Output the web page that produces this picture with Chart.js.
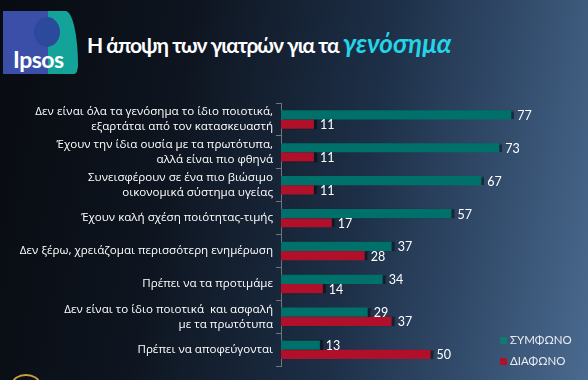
<!DOCTYPE html>
<html>
<head>
<meta charset="utf-8">
<script src="https://cdn.jsdelivr.net/npm/chart.js@4.4.1/dist/chart.umd.min.js"></script>
<style>
    body {
        margin: 0;
        width: 588px;
        height: 380px;
        overflow: hidden;
        position: relative;
        font-family: Lato, "Open Sans", sans-serif;
        background: linear-gradient(100deg, #080b10 0%, #0e1520 30%, #1d2f47 60%, #344e6e 82%, #4a6a8f 100%);
    }
    .logo {
        position: absolute;
        left: 3px;
        top: 11px;
        width: 75px;
        height: 63px;
        background: linear-gradient(to right, #3b4fa8 0%, #3b4fa8 60%, #14a399 60%, #14a399 100%);
        border-radius: 0 14px 4px 0 / 0 60px 10px 0;
        overflow: hidden;
    }
    .logo .head {
        position: absolute;
        left: 31px;
        top: 6px;
        width: 26px;
        height: 30px;
        border-radius: 50%;
        background: #2b4a9c;
    }
    .logo span {
        position: absolute;
        left: 10px;
        top: 34px;
        color: #fff;
        font: bold 23px Lato, sans-serif;
        letter-spacing: -0.5px;
    }
    .title {
        position: absolute;
        left: 87px;
        top: 27px;
        color: #fff;
        font: bold 21px Lato, sans-serif;
        letter-spacing: -1px;
        white-space: nowrap;
    }
    .title i {
        color: #25d4e6;
        font-size: 26px;
        letter-spacing: 0;
    }
    #chartBox {
        position: absolute;
        left: 0;
        top: 0;
    }
    .legend {
        position: absolute;
        left: 500px;
        color: #e8eef4;
        font: 11.5px Lato, sans-serif;
    }
    .legend b {
        display: inline-block;
        width: 7px;
        height: 7px;
        margin-right: 3px;
        vertical-align: 0;
    }
    .gold {
        position: absolute;
        left: 12px;
        top: 374px;
        width: 24px;
        height: 14px;
        border: 2px solid #c9a040;
        border-radius: 50%;
        border-bottom-color: transparent;
    }
</style>
</head>
<body>
<div class="logo"><div class="head"></div><span>Ipsos</span></div>
<div class="title">Η άποψη των γιατρών για τα <i>γενόσημα</i></div>
<div class="gold"></div>
<canvas id="chartBox" width="588" height="384"></canvas>
<div class="legend" style="top:333px"><b style="background:#0f7a70"></b>ΣΥΜΦΩΝΟ</div>
<div class="legend" style="top:354px"><b style="background:#b0102a"></b>ΔΙΑΦΩΝΟ</div>

<script>
// Données
var categories = [
    ['Δεν είναι όλα τα γενόσημα το ίδιο ποιοτικά,', 'εξαρτάται από τον κατασκευαστή'],
    ['Έχουν την ίδια ουσία με τα πρωτότυπα,', 'αλλά είναι πιο φθηνά'],
    ['Συνεισφέρουν σε ένα πιο βιώσιμο', 'οικονομικά σύστημα υγείας'],
    'Έχουν καλή σχέση ποιότητας-τιμής',
    'Δεν ξέρω, χρειάζομαι περισσότερη ενημέρωση',
    'Πρέπει να τα προτιμάμε',
    ['Δεν είναι το ίδιο ποιοτικά  και ασφαλή', 'με τα πρωτότυπα'],
    'Πρέπει να αποφεύγονται'
];
var agree = [77, 73, 67, 57, 37, 34, 29, 13];
var disagree = [11, 11, 11, 17, 28, 14, 37, 50];
var seriesNames = ['ΣΥΜΦΩΝΟ', 'ΔΙΑΦΩΝΟ'];

// ombre à droite des barres
var barShadow = {
    id: 'barShadow',
    beforeDatasetDraw: function(chart) {
        var ctx = chart.ctx;
        ctx.save();
        ctx.shadowColor = 'rgba(0,0,0,0.45)';
        ctx.shadowOffsetX = 3;
        ctx.shadowBlur = 1;
    },
    afterDatasetDraw: function(chart) {
        chart.ctx.restore();
    }
};

// valeurs à côté des barres
var valueLabels = {
    id: 'valueLabels',
    afterDatasetsDraw: function(chart) {
        var ctx = chart.ctx;
        ctx.save();
        ctx.fillStyle = '#ffffff';
        ctx.font = '12.5px Lato, sans-serif';
        ctx.textBaseline = 'middle';
        chart.data.datasets.forEach(function(ds, i) {
            chart.getDatasetMeta(i).data.forEach(function(bar, j) {
                ctx.fillText(ds.data[j], bar.x + 6, bar.y + 1);
            });
        });
        ctx.restore();
    }
};

var ctx = document.getElementById('chartBox').getContext('2d');
var myChart = new Chart(ctx, {
    type: 'bar',
    data: {
        labels: categories,
        datasets: [{
            label: seriesNames[0],
            data: agree,
            backgroundColor: '#00706a'
        }, {
            label: seriesNames[1],
            data: disagree,
            backgroundColor: '#b0102a'
        }]
    },
    options: {
        indexAxis: 'y',
        responsive: false,
        animation: false,
        layout: {
            padding: { top: 103, bottom: 3, right: 8 }
        },
        categoryPercentage: 0.56,
        barPercentage: 1,
        plugins: {
            legend: { display: false },
            tooltip: { enabled: false }
        },
        scales: {
            x: {
                display: false,
                min: 0,
                max: 100
            },
            y: {
                afterFit: function(scale) {
                    scale.width = 281;
                },
                border: { color: '#6b7682', width: 1 },
                grid: {
                    drawOnChartArea: false,
                    tickLength: 5,
                    color: '#6b7682'
                },
                ticks: {
                    color: '#ffffff',
                    padding: 3,
                    font: { family: 'Open Sans', size: 11.6, lineHeight: 1.28 },
                    autoSkip: false
                }
            }
        }
    },
    plugins: [barShadow, valueLabels]
});
</script>
</body>
</html>
